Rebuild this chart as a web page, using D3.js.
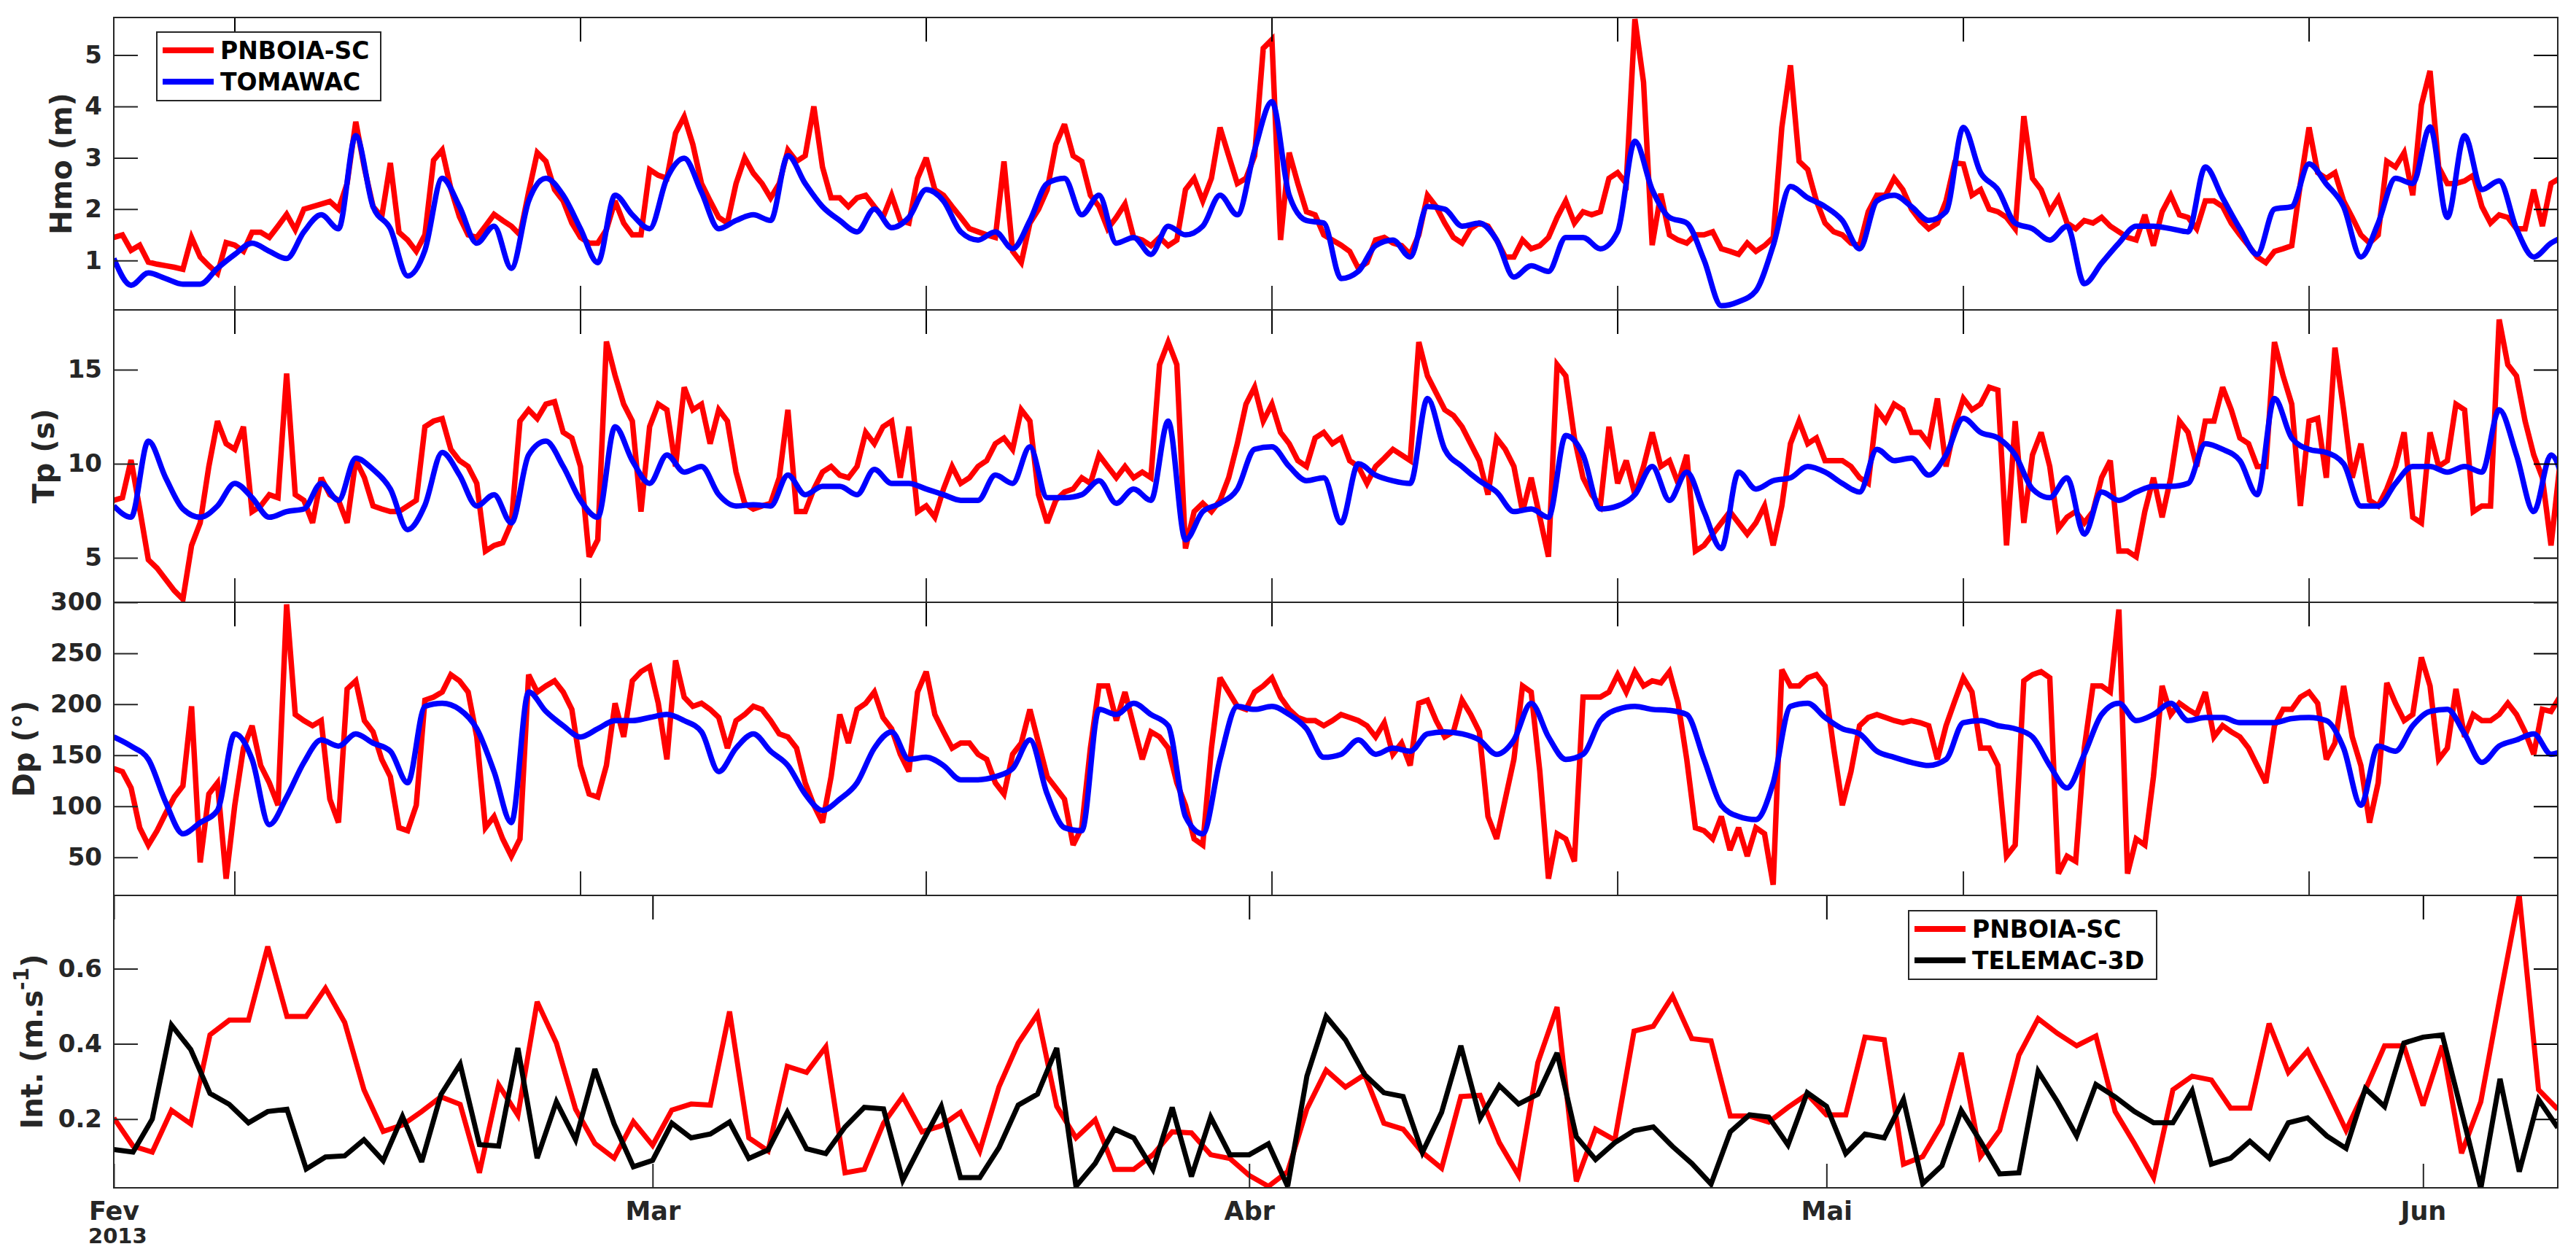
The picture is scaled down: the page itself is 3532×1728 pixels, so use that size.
<!DOCTYPE html>
<html>
<head>
<meta charset="utf-8">
<script src="https://cdn.jsdelivr.net/npm/d3@7"></script>
<style>
body { margin: 0; background: #fff; }
svg text { font-family: "DejaVu Sans", sans-serif; font-weight: bold; }
</style>
</head>
<body>
<script>
"use strict"

// wave panels: buoy every 12 h, model every 24 h, both from waveStart
var waveStart = new Date(Date.UTC(2013, 0, 19, 0, 24));
var waveEnd = new Date(Date.UTC(2013, 5, 9, 9, 45));
var waveTicks = ["2013-01-26", "2013-02-15", "2013-03-07", "2013-03-27", "2013-04-16", "2013-05-06", "2013-05-26"];

var hmoBuoy = [
  1.45,1.5,1.2,1.3,0.97,0.93,0.9,0.87,0.83,1.45,
  1.07,0.9,0.75,1.35,1.3,1.18,1.55,1.55,1.45,1.67,
  1.9,1.6,2.0,2.05,2.1,2.15,2.0,2.5,3.7,2.8,
  2.05,1.85,2.9,1.55,1.4,1.18,1.5,2.95,3.15,2.4,
  1.85,1.5,1.45,1.67,1.9,1.78,1.67,1.5,2.33,3.1,
  2.93,2.38,2.16,1.73,1.45,1.34,1.34,1.6,2.16,1.73,
  1.5,1.5,2.77,2.66,2.6,3.48,3.8,3.26,2.5,2.16,
  1.84,1.73,2.5,3.0,2.7,2.5,2.22,2.5,3.15,2.93,
  3.04,4.0,2.82,2.22,2.22,2.05,2.22,2.27,2.05,1.84,
  2.27,1.78,1.73,2.6,3.0,2.38,2.27,2.05,1.84,1.62,
  1.56,1.5,1.45,2.93,1.18,0.96,1.73,2.0,2.38,3.26,
  3.65,3.04,2.93,2.27,2.05,1.62,1.84,2.1,1.45,1.4,
  1.29,1.45,1.29,1.4,2.38,2.6,2.16,2.6,3.59,3.04,
  2.5,2.6,3.04,5.13,5.3,1.4,3.1,2.5,1.95,1.89,
  1.5,1.4,1.3,1.18,0.85,0.96,1.4,1.45,1.34,1.29,
  1.12,1.5,2.27,2.05,1.73,1.45,1.34,1.62,1.73,1.67,
  1.4,1.07,1.07,1.4,1.23,1.29,1.45,1.84,2.16,1.73,
  1.95,1.89,1.95,2.6,2.71,2.5,5.7,4.47,1.3,2.3,
  1.5,1.4,1.34,1.5,1.5,1.56,1.23,1.18,1.12,1.34,
  1.18,1.29,1.45,3.59,4.8,2.93,2.77,2.16,1.73,1.56,
  1.5,1.34,1.29,1.95,2.27,2.27,2.6,2.38,2.0,1.78,
  1.62,1.73,2.16,2.9,2.88,2.27,2.38,2.0,1.95,1.84,
  1.62,3.81,2.6,2.38,1.95,2.22,1.73,1.62,1.78,1.73,
  1.84,1.67,1.56,1.45,1.4,1.89,1.29,1.95,2.27,1.89,
  1.84,1.62,2.16,2.16,2.05,1.73,1.5,1.29,1.07,0.96,
  1.18,1.23,1.29,2.5,3.59,2.71,2.6,2.71,2.16,1.84,
  1.5,1.34,1.5,2.93,2.82,3.1,2.27,4.03,4.69,2.82,
  2.5,2.5,2.55,2.66,2.05,1.73,1.89,1.84,1.62,1.62,
  2.38,1.67,2.5,2.6
];
var hmoModel = [
  1.04,0.52,0.76,0.65,0.54,0.54,0.85,1.12,1.34,1.18,
  1.04,1.56,1.89,1.62,3.43,2.05,1.62,0.7,1.2,2.6,
  2.05,1.34,1.67,0.85,2.16,2.6,2.27,1.62,0.96,2.27,
  1.89,1.62,2.6,2.99,2.33,1.62,1.78,1.89,1.78,3.04,
  2.5,2.05,1.78,1.56,2.0,1.64,1.84,2.38,2.16,1.56,
  1.4,1.56,1.23,1.78,2.5,2.6,1.89,2.27,1.34,1.45,
  1.12,1.67,1.5,1.67,2.27,1.89,3.15,4.09,2.27,1.78,
  1.73,0.65,0.79,1.29,1.4,1.07,2.05,2.0,1.67,1.73,
  1.4,0.68,0.9,0.79,1.45,1.45,1.23,1.56,3.32,2.38,
  1.84,1.73,1.01,0.12,0.2,0.41,1.29,2.44,2.22,2.05,
  1.78,1.23,2.16,2.27,2.05,1.78,1.95,3.59,2.71,2.38,
  1.73,1.62,1.4,1.67,0.55,0.95,1.34,1.67,1.67,1.62,
  1.56,2.82,2.22,1.62,1.12,2.0,2.05,2.88,2.49,2.05,
  1.07,1.73,2.6,2.5,3.6,1.84,3.43,2.38,2.55,1.62,
  1.07,1.34,1.5
];

var tpBuoy = [
  8.06,8.2,10.2,7.6,4.9,4.46,3.86,3.26,2.8,5.66,
  6.86,9.86,12.27,11.07,10.77,11.97,7.46,7.76,8.36,8.2,
  14.8,8.36,8.06,6.86,9.26,8.36,8.06,6.86,10.2,9.26,
  7.76,7.6,7.46,7.46,7.76,8.06,11.97,12.27,12.4,10.77,
  10.17,9.86,8.96,5.36,5.66,5.8,6.86,12.27,12.87,12.4,
  13.17,13.3,11.67,11.37,9.86,5.06,5.96,16.5,14.7,13.17,
  12.27,7.46,11.97,13.17,12.87,9.86,14.07,12.87,13.17,11.07,
  12.87,12.27,9.56,7.9,7.6,7.76,7.9,9.26,12.87,7.46,
  7.46,8.66,9.56,9.86,9.4,9.26,9.86,11.67,11.07,11.97,
  12.27,9.26,11.97,7.46,7.76,7.16,8.66,9.86,8.96,9.26,
  9.86,10.17,11.07,11.37,10.77,12.87,12.27,8.36,6.86,8.06,
  8.5,8.66,9.26,8.96,10.47,9.86,9.26,9.86,9.26,9.56,
  9.26,15.27,16.47,15.27,5.5,7.46,7.9,7.46,8.06,9.26,
  11.07,13.17,14.07,12.27,13.17,11.67,11.07,10.17,9.86,11.37,
  11.67,11.07,11.37,10.17,9.86,8.96,9.86,10.3,10.77,10.47,
  10.17,16.47,14.67,13.77,12.87,12.57,11.97,11.07,10.17,8.36,
  11.37,10.77,9.86,7.46,9.26,7.16,5.06,15.27,14.67,11.37,
  9.26,8.36,7.76,11.97,8.96,10.17,8.36,9.86,11.67,9.86,
  10.17,8.96,10.47,5.36,5.66,6.26,6.86,7.46,6.86,6.26,
  6.86,7.76,5.66,7.76,11.07,12.27,11.07,11.37,10.17,10.17,
  10.17,9.86,9.26,8.96,12.87,12.27,13.17,12.87,11.67,11.67,
  11.07,13.47,9.86,12.0,13.47,12.87,13.17,14.07,13.92,5.66,
  12.27,6.86,10.47,11.67,9.86,6.56,7.16,7.46,6.86,7.46,
  9.26,10.17,5.36,5.36,5.06,7.46,9.26,7.16,9.26,12.27,
  11.67,9.86,12.27,12.27,14.07,12.87,11.37,11.07,9.86,9.86,
  16.47,14.67,13.17,7.76,12.27,12.42,9.26,16.17,12.87,9.26,
  11.07,8.06,7.76,8.66,9.86,11.67,7.16,6.86,11.67,9.86,
  10.17,13.17,12.87,7.46,7.76,7.76,17.67,15.27,14.67,12.27,
  10.47,9.26,5.66,9.86
];
var tpModel = [
  7.76,7.16,11.2,9.26,7.6,7.16,7.76,8.96,8.2,7.16,
  7.46,7.6,8.96,8.06,10.3,9.7,8.66,6.5,7.8,10.6,
  9.4,7.76,8.36,6.86,10.47,11.2,9.86,8.06,7.16,11.97,
  10.17,8.96,10.47,9.56,9.86,8.36,7.76,7.82,7.76,9.4,
  8.36,8.8,8.8,8.36,9.7,8.96,8.96,8.66,8.36,8.06,
  8.06,9.4,8.96,10.9,8.2,8.2,8.36,9.1,7.9,8.66,
  8.06,12.27,5.96,7.46,7.9,8.66,10.77,10.9,9.86,9.1,
  9.26,6.86,10.0,9.4,9.1,8.96,13.47,10.77,9.86,9.1,
  8.5,7.46,7.6,7.16,11.5,10.47,7.6,7.76,8.36,9.86,
  8.06,9.56,7.46,5.5,9.56,8.66,9.1,9.26,9.86,9.56,
  8.96,8.5,10.77,10.17,10.3,9.4,10.47,12.42,11.67,11.37,
  10.47,8.66,8.2,9.26,6.26,8.5,8.06,8.5,8.8,8.8,
  8.96,11.07,10.77,10.17,8.36,13.47,11.37,10.77,10.6,10.0,
  7.76,7.76,8.96,9.86,9.86,9.56,9.86,9.56,12.87,10.47,
  7.46,10.47,8.0
];

var dpBuoy = [
  137,134,118,79,62,76,93,109,120,198,
  45,112,123,29,101,157,179,140,123,101,
  298,190,184,179,184,107,84,215,223,184,
  173,146,129,79,76,101,204,207,212,229,
  223,212,168,79,90,68,51,68,229,212,
  218,223,212,195,140,112,109,140,201,168,
  223,232,237,201,146,243,207,198,201,195,
  187,157,184,190,198,195,184,171,168,157,
  123,101,84,129,190,162,195,201,212,187,
  176,151,134,212,232,190,173,157,162,162,
  151,146,123,112,151,162,195,162,129,118,
  107,62,79,157,218,218,184,212,179,146,
  173,168,157,123,101,68,62,157,226,212,
  198,195,212,218,226,207,195,187,184,184,
  179,184,190,187,184,179,168,182,151,162,
  140,201,204,184,168,173,204,190,173,90,
  68,107,146,218,212,134,29,73,68,46,
  207,207,207,212,229,212,232,218,223,221,
  232,201,146,79,76,68,90,57,79,51,
  79,73,23,234,218,218,226,229,218,157,
  101,134,179,187,190,187,184,182,184,182,
  179,146,179,203,226,212,157,157,140,51,
  62,223,229,232,226,34,51,46,157,218,
  218,212,293,34,68,62,129,218,190,201,
  195,190,212,168,179,173,168,157,140,123,
  179,195,195,207,212,201,146,162,218,168,
  140,84,123,221,201,184,190,246,218,146,
  157,215,168,190,184,184,190,201,190,173,
  151,195,193,207
];
var dpModel = [
  168,159,146,104,73,84,96,171,146,82,
  109,143,165,159,171,162,154,123,198,201,
  195,176,134,84,212,193,179,168,176,184,
  184,187,190,184,173,134,157,171,154,140,
  112,96,107,123,157,173,146,148,140,126,
  126,129,137,165,112,79,76,195,190,201,
  190,179,90,73,146,198,195,198,190,176,
  148,151,165,151,157,154,171,173,171,165,
  151,165,201,168,146,151,184,195,198,195,
  194,190,146,101,90,87,123,198,201,187,
  176,171,154,148,143,140,146,182,184,179,
  176,168,140,118,151,190,201,184,190,201,
  184,187,187,182,182,182,186,187,184,157,
  101,159,154,179,193,195,171,143,159,165,
  171,151,157
];

// current panel: one value per day from curStart
var curStart = new Date(Date.UTC(2013, 1, 1));
var curEnd = new Date(Date.UTC(2013, 5, 8));
var monthTicks = ["2013-02-01", "2013-03-01", "2013-04-01", "2013-05-01", "2013-06-01"];
var monthLabels = ["Fev", "Mar", "Abr", "Mai", "Jun"];

var curBuoy = [
  0.203,0.128,0.112,0.223,0.187,0.424,0.463,0.463,0.659,0.473,
  0.473,0.548,0.457,0.278,0.167,0.184,0.22,0.259,0.239,0.057,
  0.291,0.21,0.512,0.402,0.226,0.135,0.096,0.193,0.13,0.224,
  0.24,0.237,0.486,0.15,0.115,0.34,0.324,0.392,0.057,0.066,
  0.189,0.26,0.166,0.182,0.218,0.115,0.286,0.402,0.479,0.234,
  0.15,0.198,0.066,0.066,0.105,0.166,0.163,0.105,0.095,0.05,
  0.021,0.06,0.227,0.33,0.285,0.318,0.189,0.173,0.111,0.069,
  0.26,0.263,0.137,0.05,0.35,0.498,0.034,0.173,0.144,0.434,
  0.447,0.527,0.414,0.408,0.208,0.208,0.192,0.231,0.266,0.211,
  0.211,0.418,0.411,0.08,0.10,0.187,0.376,0.1,0.17,0.37,
  0.467,0.428,0.395,0.421,0.22,0.135,0.044,0.278,0.314,0.304,
  0.229,0.229,0.454,0.324,0.382,0.278,0.17,0.278,0.395,0.395,
  0.236,0.395,0.109,0.246,0.525,0.795,0.278,0.226
];
var curModel = [
  0.119,0.112,0.2,0.45,0.385,0.268,0.239,0.19,0.22,0.226,
  0.067,0.099,0.102,0.145,0.089,0.207,0.086,0.265,0.346,0.132,
  0.128,0.389,0.096,0.246,0.145,0.333,0.187,0.073,0.09,0.189,
  0.15,0.16,0.192,0.095,0.118,0.218,0.121,0.108,0.179,0.231,
  0.227,0.037,0.137,0.234,0.044,0.044,0.124,0.237,0.266,0.389,
  0.021,0.082,0.173,0.15,0.066,0.231,0.047,0.205,0.105,0.105,
  0.134,0.021,0.314,0.473,0.411,0.318,0.27,0.26,0.111,0.218,
  0.395,0.202,0.289,0.24,0.266,0.376,0.153,0.092,0.137,0.169,
  0.179,0.127,0.082,0.027,0.166,0.211,0.205,0.131,0.27,0.234,
  0.108,0.16,0.15,0.252,0.028,0.076,0.223,0.141,0.054,0.057,
  0.327,0.246,0.155,0.292,0.259,0.22,0.19,0.19,0.275,0.08,
  0.096,0.141,0.096,0.19,0.203,0.155,0.122,0.281,0.233,0.402,
  0.418,0.424,0.22,0.015,0.307,0.06,0.252,0.177
];

var width = 3532, height = 1728;
var left = 156, right = 3507;
var axisColor = "#262626";
var tickLen = 33;

var svg = d3.select("body").append("svg")
    .attr("width", width)
    .attr("height", height);

svg.append("rect").attr("width", width).attr("height", height).attr("fill", "#fff");

var xWave = d3.scaleUtc().domain([waveStart, waveEnd]).range([left, right]);
var xCur = d3.scaleUtc().domain([curStart, curEnd]).range([left, right]);

function stepTime(start, hours) {
    return function(d, i) { return xWave(new Date(start.getTime() + i * hours * 3600e3)); };
}
function dayTime(d, i) {
    return xCur(new Date(curStart.getTime() + i * 24 * 3600e3));
}
var parse = function(s) { return new Date(s + "T00:00:00Z"); };

var panels = [
  {id: "hmo", top: 24, bottom: 425, domain: [0.04, 5.73], ticks: [1, 2, 3, 4, 5], fmt: d3.format("d"),
   label: "Hmo (m)", labelX: 84,
   series: [{v: hmoBuoy, x: stepTime(waveStart, 12), color: "#ff0000", w: 7.5},
            {v: hmoModel, x: stepTime(waveStart, 24), color: "#0000ff", w: 7.5, smooth: true}]},
  {id: "tp", top: 425, bottom: 826, domain: [2.64, 18.18], ticks: [5, 10, 15], fmt: d3.format("d"),
   label: "Tp (s)", labelX: 60,
   series: [{v: tpBuoy, x: stepTime(waveStart, 12), color: "#ff0000", w: 7.5},
            {v: tpModel, x: stepTime(waveStart, 24), color: "#0000ff", w: 7.5, smooth: true}]},
  {id: "dp", top: 826, bottom: 1228, domain: [12.6, 300], ticks: [50, 100, 150, 200, 250, 300], fmt: d3.format("d"),
   label: "Dp (°)", labelX: 33,
   series: [{v: dpBuoy, x: stepTime(waveStart, 12), color: "#ff0000", w: 7.5},
            {v: dpModel, x: stepTime(waveStart, 24), color: "#0000ff", w: 7.5, smooth: true}]},
  {id: "cur", top: 1228, bottom: 1629, domain: [0.017, 0.795], ticks: [0.2, 0.4, 0.6], fmt: d3.format(".1f"),
   label: null, labelX: 44,
   series: [{v: curBuoy, x: dayTime, color: "#ff0000", w: 7},
            {v: curModel, x: dayTime, color: "#000000", w: 7}]}
];

panels.forEach(function(p, k) {
    var y = d3.scaleLinear().domain(p.domain).range([p.bottom, p.top]);
    var isCur = p.id === "cur";
    var x = isCur ? xCur : xWave;
    var xt = (isCur ? monthTicks : waveTicks).map(parse);

    svg.append("clipPath").attr("id", "clip-" + p.id)
      .append("rect")
        .attr("x", left).attr("y", p.top)
        .attr("width", right - left).attr("height", p.bottom - p.top);

    var plot = svg.append("g").attr("clip-path", "url(#clip-" + p.id + ")");
    p.series.forEach(function(s) {
        var line = d3.line()
            .x(s.x)
            .y(function(d) { return y(d); });
        if (s.smooth) line.curve(d3.curveMonotoneX);
        plot.append("path")
            .datum(s.v)
            .attr("d", line)
            .attr("fill", "none")
            .attr("stroke", s.color)
            .attr("stroke-width", s.w)
            .attr("stroke-linejoin", "miter")
            .attr("stroke-miterlimit", 3);
    });

    // y axes, ticks inward on both sides
    var yl = svg.append("g")
        .attr("transform", "translate(" + left + ",0)")
        .call(d3.axisLeft(y).tickValues(p.ticks).tickFormat(p.fmt).tickSize(-tickLen).tickPadding(16));
    svg.append("g")
        .attr("transform", "translate(" + right + ",0)")
        .call(d3.axisRight(y).tickValues(p.ticks).tickFormat("").tickSize(-tickLen));

    // x axes
    svg.append("g")
        .attr("transform", "translate(0," + p.top + ")")
        .call(d3.axisTop(x).tickValues(xt).tickFormat("").tickSize(-tickLen));
    var xb = svg.append("g")
        .attr("transform", "translate(0," + p.bottom + ")")
        .call(d3.axisBottom(x).tickValues(xt)
            .tickFormat(isCur ? function(d, i) { return monthLabels[i]; } : "")
            .tickSize(-tickLen).tickPadding(19));

    svg.selectAll("path.domain").remove();

    yl.attr("color", axisColor).attr("font-size", 34).attr("font-family", null);
    xb.attr("color", axisColor).attr("font-size", 35).attr("font-family", null);

    svg.append("rect")
        .attr("x", left).attr("y", p.top)
        .attr("width", right - left).attr("height", p.bottom - p.top)
        .attr("fill", "none")
        .attr("stroke", axisColor)
        .attr("stroke-width", 2);

    var cy = (p.top + p.bottom) / 2;
    var lab = svg.append("text")
        .attr("transform", "translate(" + p.labelX + "," + cy + ") rotate(-90)")
        .attr("text-anchor", "middle")
        .attr("dominant-baseline", "central")
        .attr("font-size", 40)
        .attr("fill", axisColor);
    if (p.label) {
        lab.text(p.label);
    } else {
        lab.append("tspan").text("Int. (m.s");
        lab.append("tspan").attr("font-size", 28).attr("dy", "-0.55em").text("-1");
        lab.append("tspan").attr("dy", "0.4em").text(")");
    }
});

svg.selectAll("g.tick line").attr("stroke-width", 2);

svg.append("text")
    .attr("x", 121)
    .attr("y", 1705)
    .attr("font-size", 29)
    .attr("fill", axisColor)
    .text("2013");

// legends
function legend(x0, y0, w, h, items, textX) {
    var g = svg.append("g");
    g.append("rect")
        .attr("x", x0).attr("y", y0).attr("width", w).attr("height", h)
        .attr("fill", "#fff").attr("stroke", axisColor).attr("stroke-width", 2);
    items.forEach(function(it, i) {
        var yy = y0 + 25 + i * 43;
        g.append("line")
            .attr("x1", x0 + 8).attr("x2", x0 + 78)
            .attr("y1", yy).attr("y2", yy)
            .attr("stroke", it.color).attr("stroke-width", 8);
        g.append("text")
            .attr("x", x0 + textX).attr("y", yy)
            .attr("dominant-baseline", "central")
            .attr("font-size", 33)
            .attr("fill", "#000")
            .text(it.name);
    });
}

legend(215, 44, 307, 94, [{name: "PNBOIA-SC", color: "#ff0000"}, {name: "TOMAWAC", color: "#0000ff"}], 87);
legend(2617, 1249, 340, 94, [{name: "PNBOIA-SC", color: "#ff0000"}, {name: "TELEMAC-3D", color: "#000000"}], 87);
</script>
</body>
</html>
